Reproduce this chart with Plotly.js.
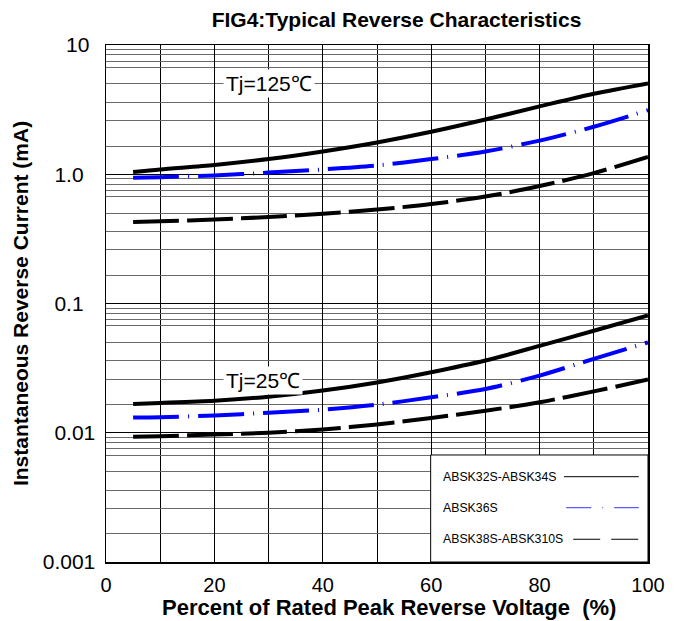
<!DOCTYPE html>
<html>
<head>
<meta charset="utf-8">
<script src="https://cdn.plot.ly/plotly-3.0.1.min.js"></script>
<style>
  html, body { margin: 0; padding: 0; background: #fff; }
  #chart { width: 686px; height: 621px; }
</style>
</head>
<body>
<div id="chart"></div>
<script>
// ---- data ----
const voltagePct = [5, 10, 20, 30, 40, 50, 60, 70, 80, 90, 100];

const hot_32_34  = [1.04, 1.09, 1.18, 1.31, 1.50, 1.76, 2.13, 2.65, 3.35, 4.20, 5.05];
const hot_36     = [0.94, 0.95, 0.98, 1.03, 1.09, 1.17, 1.31, 1.50, 1.82, 2.33, 3.13];
const hot_38_310 = [0.427, 0.432, 0.446, 0.467, 0.495, 0.533, 0.588, 0.672, 0.810, 1.02, 1.36];

const cold_32_34  = [0.0167, 0.0170, 0.0177, 0.0190, 0.0212, 0.0245, 0.0294, 0.0362, 0.0470, 0.0615, 0.0807];
const cold_36     = [0.0131, 0.0132, 0.0136, 0.0143, 0.0151, 0.0165, 0.0188, 0.0218, 0.0277, 0.0373, 0.0501];
const cold_38_310 = [0.0093, 0.0094, 0.0097, 0.0100, 0.0106, 0.0116, 0.0130, 0.0148, 0.0172, 0.0209, 0.0258];

const seriesNames = ["ABSK32S-ABSK34S", "ABSK36S", "ABSK38S-ABSK310S"];

const yTickVals = [0.001, 0.01, 0.1, 1, 10];
const yTickText = ["0.001", "0.01", "0.1\u00a0\u00a0", "1.0\u00a0\u00a0", "10\u00a0"];
const xTickVals = [0, 20, 40, 60, 80, 100];
const xTickText = ["0", "20", "40", "60", "80", "100"];

// grid line multipliers inside each decade (as drawn in the reference)
const gridMult = [9.2, 8.4, 7.5, 6.7, 5.0, 3.6, 2.6, 1.65];
const gridDecades = [0.001, 0.01, 0.1, 1];

// ---- styles ----
const FONT = "Liberation Sans, Arial, sans-serif";
const styles = [
  { color: "#000000", dash: "solid" },
  { color: "#0000ff", dash: "46px,9px,1px,9px" },
  { color: "#000000", dash: "46px,8px" }
];

const minorVals = [];
gridDecades.forEach(d => gridMult.forEach(m => minorVals.push(d * m)));

function tr(y, i) {
  return {
    x: voltagePct, y: y, type: "scatter", mode: "lines",
    name: seriesNames[i], showlegend: false,
    line: { color: styles[i].color, width: 4, dash: styles[i].dash, shape: "spline", smoothing: 0.8 },
    hoverinfo: "x+y"
  };
}

const data = [
  tr(hot_32_34, 0), tr(hot_36, 1), tr(hot_38_310, 2),
  tr(cold_32_34, 0), tr(cold_36, 1), tr(cold_38_310, 2)
];

// legend drawn as box with text on left, sample on right
const legY = [0.165, 0.105, 0.044];
const shapes = [
  { type: "rect", xref: "paper", yref: "paper", x0: 0.599, x1: 1, y0: 0, y1: 0.207,
    fillcolor: "#ffffff", line: { color: "#000", width: 1 }, layer: "above" }
];
const legX0 = [0.845, 0.849, 0.862];
styles.forEach((s, i) => {
  shapes.push({
    type: "line", xref: "paper", yref: "paper", x0: legX0[i], x1: 0.983, y0: legY[i], y1: legY[i],
    line: { color: i === 1 ? "#3333ff" : "#000", width: 1,
            dash: i === 0 ? "solid" : (i === 1 ? "25px,11px,1px,11px" : "27px,11px") },
    layer: "above"
  });
});

const annotations = [
  { text: "Tj=125\u2103", x: 30.1, y: Math.log10(5.0), xref: "x", yref: "y", showarrow: false,
    font: { family: FONT, size: 21, color: "#000" }, bgcolor: "#ffffff", borderpad: 2 },
  { text: "Tj=25\u2103", x: 29, y: Math.log10(0.0253), xref: "x", yref: "y", showarrow: false,
    font: { family: FONT, size: 21, color: "#000" }, bgcolor: "#ffffff", borderpad: 2 }
];
seriesNames.forEach((n, i) => {
  annotations.push({
    text: n, xref: "paper", yref: "paper", x: 0.618, y: legY[i], xanchor: "left", yanchor: "middle",
    showarrow: false, font: { family: FONT, size: 12.3, color: "#000" }
  });
});

const layout = {
  width: 686, height: 621,
  margin: { l: 106, r: 38, t: 45, b: 59 },
  paper_bgcolor: "#fff", plot_bgcolor: "#fff",
  font: { family: FONT, color: "#000" },
  title: { text: "<b>FIG4:Typical Reverse Characteristics</b>", font: { family: FONT, size: 21, color: "#000" },
           xref: "paper", x: 0.536, xanchor: "center", y: 0.969, yanchor: "middle" },
  xaxis: {
    range: [0, 100], tickmode: "array", tickvals: xTickVals, ticktext: xTickText,
    showgrid: true, gridcolor: "#000", gridwidth: 1,
    minor: { tickmode: "array", tickvals: [10, 30, 50, 70, 90], showgrid: true, gridcolor: "#000", gridwidth: 1, ticks: "" },
    showline: true, linecolor: "#000", linewidth: 1.5, mirror: true, ticks: "", zeroline: false,
    tickfont: { family: FONT, size: 20, color: "#000" }, ticklabelstandoff: 4,
    title: { text: "<b>\u00a0\u00a0\u00a0\u00a0Percent of Rated Peak Reverse Voltage  (%)</b>", font: { family: FONT, size: 22, color: "#000" }, standoff: 5 }
  },
  yaxis: {
    type: "log", range: [-3, 1], tickmode: "array", tickvals: yTickVals, ticktext: yTickText,
    showgrid: true, gridcolor: "#000", gridwidth: 1,
    minor: { tickmode: "array", tickvals: minorVals, showgrid: true, gridcolor: "#6a6a6a", gridwidth: 1, ticks: "" },
    showline: true, linecolor: "#000", linewidth: 1.5, mirror: true, ticks: "", zeroline: false,
    tickfont: { family: FONT, size: 21, color: "#000" }, ticklabelstandoff: 5,
    title: { text: "<b>Instantaneous Reverse Current (mA)</b>", font: { family: FONT, size: 21, color: "#000" }, standoff: 8 }
  },
  shapes: shapes,
  annotations: annotations
};

Plotly.newPlot("chart", data, layout, { displayModeBar: false, staticPlot: true });
</script>
</body>
</html>
